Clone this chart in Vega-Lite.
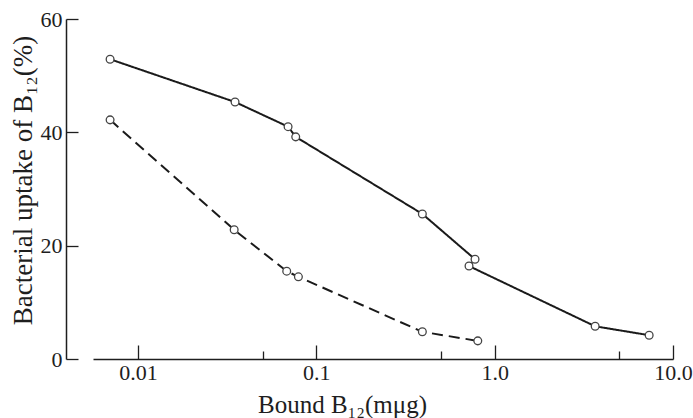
{
  "$schema": "https://vega.github.io/schema/vega-lite/v6.json",
  "width": 580,
  "height": 340,
  "autosize": {"type": "none"},
  "padding": {"left": 93, "top": 19, "right": 20, "bottom": 59},
  "background": "white",
  "config": {
    "view": {"stroke": null},
    "font": "Liberation Serif",
    "axis": {
      "grid": false,
      "labelFont": "Liberation Serif",
      "labelFontSize": 22,
      "labelColor": "#1e1e1e",
      "titleFont": "Liberation Serif",
      "titleFontSize": 25,
      "titleFontWeight": "normal",
      "titleColor": "#1e1e1e",
      "domainColor": "#1e1e1e",
      "domainWidth": 1.5,
      "tickColor": "#1e1e1e",
      "tickWidth": 1.3
    }
  },
  "data": {
    "values": [
      {"series": "solid", "order": 1, "dose": 0.00697, "uptake": 52.9},
      {"series": "solid", "order": 2, "dose": 0.035, "uptake": 45.35},
      {"series": "solid", "order": 3, "dose": 0.0694, "uptake": 41.0},
      {"series": "solid", "order": 4, "dose": 0.0766, "uptake": 39.2},
      {"series": "solid", "order": 5, "dose": 0.393, "uptake": 25.6},
      {"series": "solid", "order": 6, "dose": 0.776, "uptake": 17.6},
      {"series": "solid", "order": 7, "dose": 0.718, "uptake": 16.4},
      {"series": "solid", "order": 8, "dose": 3.66, "uptake": 5.77},
      {"series": "solid", "order": 9, "dose": 7.35, "uptake": 4.2},
      {"series": "dashed", "order": 1, "dose": 0.00697, "uptake": 42.2},
      {"series": "dashed", "order": 2, "dose": 0.0346, "uptake": 22.8},
      {"series": "dashed", "order": 3, "dose": 0.0682, "uptake": 15.5},
      {"series": "dashed", "order": 4, "dose": 0.0793, "uptake": 14.5},
      {"series": "dashed", "order": 5, "dose": 0.393, "uptake": 4.8},
      {"series": "dashed", "order": 6, "dose": 0.804, "uptake": 3.2}
    ]
  },
  "resolve": {"axis": {"x": "independent"}},
  "layer": [
    {
      "mark": {"type": "line", "color": "#1a1a1a", "strokeWidth": 2},
      "encoding": {
        "x": {
          "field": "dose", "type": "quantitative",
          "scale": {"type": "log", "domain": [0.00559, 10], "nice": false},
          "axis": {
            "orient": "bottom",
            "values": [0.01, 0.1, 1, 10],
            "labelExpr": "datum.value == 0.01 ? '0.01' : datum.value == 0.1 ? '0.1' : datum.value == 1 ? '1.0' : '10.0'",
            "tickSize": -14,
            "labelPadding": 17,
            "labelFlush": false,
            "labelOverlap": false,
            "title": "Bound B₁₂(mμg)",
            "titleX": 249,
            "titleY": 53,
            "titleBaseline": "alphabetic",
            "titleAlign": "center"
          }
        },
        "y": {
          "field": "uptake", "type": "quantitative",
          "scale": {"domain": [0, 60], "nice": false},
          "axis": {
            "orient": "left",
            "values": [0, 20, 40, 60],
            "offset": 27,
            "tickSize": -12,
            "labelPadding": 16,
            "labelFlush": false,
            "title": "Bacterial uptake of B₁₂(%)",
            "titleFontSize": 27,
            "titleY": 161,
            "titleAlign": "center",
            "titlePadding": 3
          }
        },
        "order": {"field": "order", "type": "quantitative"},
        "strokeDash": {
          "field": "series", "type": "nominal",
          "scale": {"domain": ["solid", "dashed"], "range": [[1, 0], [11, 6]]},
          "legend": null
        }
      }
    },
    {
      "mark": {"type": "point", "shape": "circle", "filled": true, "fill": "white", "stroke": "#444444", "strokeWidth": 1.3, "size": 60, "opacity": 1},
      "encoding": {
        "x": {"field": "dose", "type": "quantitative", "axis": null},
        "y": {"field": "uptake", "type": "quantitative"}
      }
    },
    {
      "mark": {"type": "point", "opacity": 0},
      "encoding": {
        "x": {
          "field": "dose", "type": "quantitative",
          "axis": {"orient": "bottom", "values": [0.05, 0.5, 5], "labels": false, "domain": false, "tickSize": -8, "title": null}
        },
        "y": {"field": "uptake", "type": "quantitative"}
      }
    }
  ]
}
